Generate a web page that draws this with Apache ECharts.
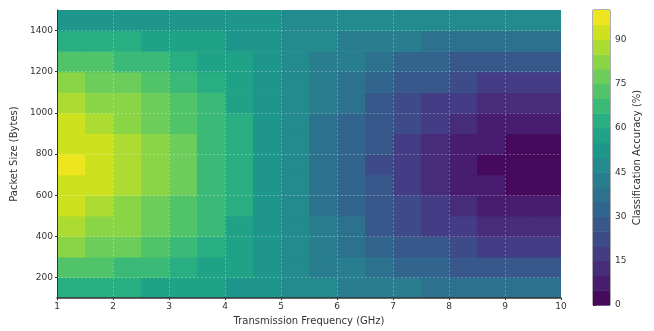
<!DOCTYPE html>
<html>
<head>
<meta charset="utf-8">
<script src="https://cdn.jsdelivr.net/npm/echarts@6/dist/echarts.min.js"></script>
<style>
  html, body { margin: 0; padding: 0; background: #fff; }
  #chart { width: 654px; height: 331px; }
</style>
</head>
<body>
<div id="chart"></div>
<script>
// cell centres (GHz, bytes) and accuracy (%)
const freq = [1.25, 1.75, 2.25, 2.75, 3.25, 3.75, 4.25, 4.75, 5.25, 5.75, 6.25, 6.75, 7.25, 7.75, 8.25, 8.75, 9.25, 9.75];
const packetSize = [150, 250, 350, 450, 550, 650, 750, 850, 950, 1050, 1150, 1250, 1350, 1450];
const accuracy = [
  [62.8, 61.8, 60.5, 59.0, 57.3, 55.3, 53.3, 51.3, 49.0, 46.9, 44.9, 42.8, 41.0, 39.6, 38.3, 37.3, 36.8, 36.6],
  [72.9, 71.0, 68.7, 66.0, 63.0, 59.5, 55.9, 52.3, 48.2, 44.5, 41.0, 37.2, 34.0, 31.4, 29.1, 27.3, 26.5, 26.0],
  [80.6, 78.1, 75.0, 71.4, 67.3, 62.6, 57.8, 53.0, 47.6, 42.6, 37.9, 32.9, 28.6, 25.0, 22.0, 19.6, 18.6, 17.9],
  [87.0, 84.0, 80.3, 75.9, 71.0, 65.3, 59.5, 53.6, 47.1, 41.0, 35.4, 29.3, 24.1, 19.8, 16.2, 13.2, 12.0, 11.2],
  [91.8, 88.4, 84.2, 79.2, 73.7, 67.3, 60.7, 54.1, 46.7, 39.9, 33.5, 26.6, 20.8, 15.9, 11.8, 8.4, 7.0, 6.1],
  [94.7, 91.1, 86.6, 81.3, 75.3, 68.5, 61.4, 54.4, 46.5, 39.1, 32.3, 25.0, 18.7, 13.5, 9.1, 5.5, 4.0, 3.1],
  [95.7, 92.0, 87.4, 82.0, 75.9, 68.9, 61.7, 54.5, 46.4, 38.9, 31.9, 24.4, 18.0, 12.7, 8.2, 4.5, 3.0, 2.0],
  [94.7, 91.1, 86.6, 81.3, 75.3, 68.5, 61.4, 54.4, 46.5, 39.1, 32.3, 25.0, 18.7, 13.5, 9.1, 5.5, 4.0, 3.1],
  [91.8, 88.4, 84.2, 79.2, 73.7, 67.3, 60.7, 54.1, 46.7, 39.9, 33.5, 26.6, 20.8, 15.9, 11.8, 8.4, 7.0, 6.1],
  [87.0, 84.0, 80.3, 75.9, 71.0, 65.3, 59.5, 53.6, 47.1, 41.0, 35.4, 29.3, 24.1, 19.8, 16.2, 13.2, 12.0, 11.2],
  [80.6, 78.1, 75.0, 71.4, 67.3, 62.6, 57.8, 53.0, 47.6, 42.6, 37.9, 32.9, 28.6, 25.0, 22.0, 19.6, 18.6, 17.9],
  [72.9, 71.0, 68.7, 66.0, 63.0, 59.5, 55.9, 52.3, 48.2, 44.5, 41.0, 37.2, 34.0, 31.4, 29.1, 27.3, 26.5, 26.0],
  [64.1, 63.0, 61.6, 59.9, 58.0, 55.8, 53.6, 51.4, 48.9, 46.6, 44.4, 42.1, 40.1, 38.5, 37.1, 35.9, 35.5, 35.2],
  [54.8, 54.4, 53.9, 53.4, 52.7, 52.0, 51.2, 50.5, 49.6, 48.8, 48.1, 47.3, 46.6, 46.1, 45.6, 45.2, 45.1, 45.0]
];
const levels = [0, 5, 10, 15, 20, 25, 30, 35, 40, 45, 50, 55, 60, 65, 70, 75, 80, 85, 90, 95, 100];
const yTicks = [200, 400, 600, 800, 1000, 1200, 1400];
const cbarTicks = [0, 15, 30, 45, 60, 75, 90];

// viridis, sampled at band midpoints
const bandColors = ['#450a5c', '#481c6e', '#472c7a', '#443c84', '#3e4b89', '#38588c', '#32658e', '#2c728e', '#287e8e', '#238a8d',
  '#1f968b', '#20a286', '#28ae80', '#3aba76', '#51c469', '#6ccd5a', '#8ad546', '#acdc31', '#cee11f', '#eee51e'];

var cells = [];
packetSize.forEach((y, j) => {
  freq.forEach((x, i) => cells.push([x, y, accuracy[j][i]]));
});
var bands = levels.slice(0, -1).map((lo, i) => [lo, levels[i + 1], i]);

var pieces = bandColors.map((c, i) => ({ gte: levels[i], lt: levels[i + 1], color: c }));
pieces[pieces.length - 1].lte = 100;
delete pieces[pieces.length - 1].lt;

var gridLine = { color: 'rgba(255,255,255,0.35)', width: 0.8, type: [2, 2] };
var font = 'DejaVu Sans';
var dom = document.getElementById('chart');
var myChart = echarts.init(dom);

var option = {
  animation: false,
  textStyle: { fontFamily: font },
  grid: [
    { left: 57, right: 93, top: 10, bottom: 27 },
    { left: 593, width: 17, top: 10, bottom: 26, show: true, borderColor: '#333', borderWidth: 0.8, backgroundColor: 'transparent' }
  ],
  visualMap: {
    type: 'piecewise',
    show: false,
    dimension: 2,
    seriesIndex: 0,
    pieces: pieces
  },
  xAxis: [
    {
      type: 'value', gridIndex: 0, min: 1, max: 10, interval: 1, z: 5,
      name: 'Transmission Frequency (GHz)', nameLocation: 'middle', nameGap: 14,
      nameTextStyle: { fontSize: 10, color: '#333' },
      axisLine: { lineStyle: { color: '#333', width: 1.5 } },
      axisTick: { show: true, length: 2, lineStyle: { color: '#333' } },
      axisLabel: { fontSize: 9, color: '#333', margin: 4 },
      splitLine: { show: true, lineStyle: gridLine }
    },
    { type: 'value', gridIndex: 1, min: 0, max: 1, show: false }
  ],
  yAxis: [
    {
      type: 'value', gridIndex: 0, min: 100, max: 1500, z: 5,
      name: 'Packet Size (Bytes)', nameLocation: 'middle', nameGap: 31,
      nameTextStyle: { fontSize: 10, color: '#333' },
      axisLine: { show: true, lineStyle: { color: '#333', width: 1 } },
      axisTick: { show: true, length: 2, customValues: yTicks, lineStyle: { color: '#333' } },
      axisLabel: { fontSize: 9, color: '#333', margin: 4, customValues: yTicks, formatter: (v) => String(v) },
      splitLine: { show: false }
    },
    {
      type: 'value', gridIndex: 1, min: 0, max: 100, position: 'right',
      name: 'Classification Accuracy (%)', nameLocation: 'middle', nameGap: 22,
      nameTextStyle: { fontSize: 10, color: '#333' },
      axisLine: { show: false },
      axisTick: { show: true, length: 3, customValues: cbarTicks, lineStyle: { color: '#333' } },
      axisLabel: { fontSize: 9, color: '#333', margin: 5, customValues: cbarTicks },
      splitLine: { show: false }
    }
  ],
  series: [
    {
      type: 'custom',
      xAxisIndex: 0, yAxisIndex: 0,
      clip: true,
      z: 1,
      data: cells,
      renderItem: (params, api) => {
        var x = api.value(0), y = api.value(1);
        var p0 = api.coord([x - 0.25, y + 50]);
        var p1 = api.coord([x + 0.25, y - 50]);
        return {
          type: 'rect',
          shape: { x: p0[0], y: p0[1], width: p1[0] - p0[0] + 0.6, height: p1[1] - p0[1] + 0.6 },
          style: { fill: api.visual('color') }
        };
      },
      markLine: {
        silent: true,
        symbol: 'none',
        label: { show: false },
        lineStyle: gridLine,
        data: yTicks.map((v) => ({ yAxis: v }))
      }
    },
    {
      type: 'custom',
      xAxisIndex: 1, yAxisIndex: 1,
      z: 1,
      data: bands,
      renderItem: (params, api) => {
        var p0 = api.coord([0, api.value(1)]);
        var p1 = api.coord([1, api.value(0)]);
        return {
          type: 'rect',
          shape: { x: p0[0], y: p0[1], width: p1[0] - p0[0], height: p1[1] - p0[1] + 0.5 },
          style: { fill: bandColors[api.value(2)] }
        };
      }
    }
  ]
};

if (option && typeof option === 'object') {
  myChart.setOption(option);
}
</script>
</body>
</html>
